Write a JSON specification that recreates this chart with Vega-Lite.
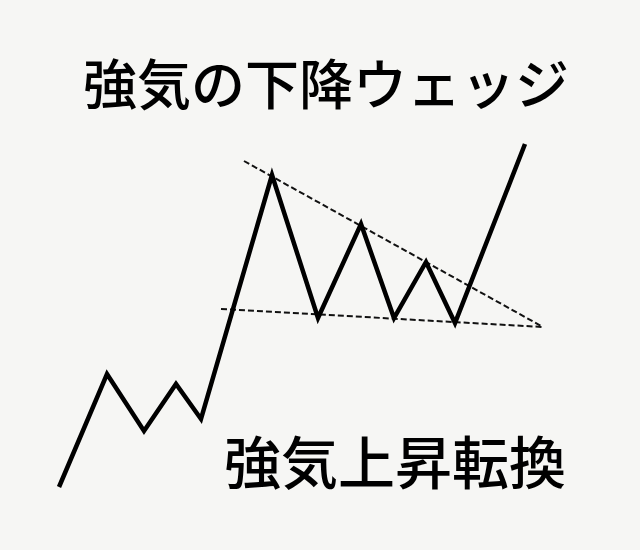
{
  "$schema": "https://vega.github.io/schema/vega-lite/v6.json",
  "width": 640,
  "height": 550,
  "padding": 0,
  "autosize": {"type": "fit", "contains": "padding"},
  "background": "#f6f6f4",
  "view": {"stroke": null},
  "datasets": {
    "price": [
      {"i": 0, "x": 59, "y": 487},
      {"i": 1, "x": 107, "y": 374},
      {"i": 2, "x": 144, "y": 431},
      {"i": 3, "x": 176, "y": 384},
      {"i": 4, "x": 201, "y": 419},
      {"i": 5, "x": 272, "y": 175},
      {"i": 6, "x": 318, "y": 318},
      {"i": 7, "x": 361, "y": 224},
      {"i": 8, "x": 394, "y": 318},
      {"i": 9, "x": 426, "y": 262},
      {"i": 10, "x": 455, "y": 323},
      {"i": 11, "x": 525, "y": 144}
    ],
    "trend": [
      {"line": "upper", "x": 244, "y": 161},
      {"line": "upper", "x": 543, "y": 327},
      {"line": "lower", "x": 221, "y": 309},
      {"line": "lower", "x": 543, "y": 327}
    ],
    "labels": [
      {"label": "強気の下降ウェッジ", "x": 326, "y": 89, "kind": "title"},
      {"label": "強気上昇転換", "x": 395, "y": 467, "kind": "sub"}
    ]
  },
  "encoding": {
    "x": {"field": "x", "type": "quantitative", "scale": {"domain": [0, 640], "nice": false, "zero": false}, "axis": null},
    "y": {"field": "y", "type": "quantitative", "scale": {"domain": [0, 550], "nice": false, "zero": false, "reverse": true}, "axis": null}
  },
  "layer": [
    {
      "data": {"name": "trend"},
      "mark": {"type": "line", "color": "#111111", "strokeWidth": 2, "strokeDash": [6, 3]},
      "encoding": {"detail": {"field": "line"}}
    },
    {
      "data": {"name": "price"},
      "mark": {"type": "line", "color": "#000000", "strokeWidth": 4.5, "strokeJoin": "miter", "strokeCap": "butt"},
      "encoding": {"order": {"field": "i", "type": "quantitative"}}
    },
    {
      "data": {"name": "labels"},
      "transform": [{"filter": "datum.kind === 'title'"}],
      "mark": {"type": "text", "font": "Noto Sans CJK JP", "fontWeight": 500, "fontSize": 54, "color": "#000000", "baseline": "middle", "align": "center"},
      "encoding": {"text": {"field": "label"}}
    },
    {
      "data": {"name": "labels"},
      "transform": [{"filter": "datum.kind === 'sub'"}],
      "mark": {"type": "text", "font": "Noto Sans CJK JP", "fontWeight": 500, "fontSize": 57, "color": "#000000", "baseline": "middle", "align": "center"},
      "encoding": {"text": {"field": "label"}}
    }
  ]
}
